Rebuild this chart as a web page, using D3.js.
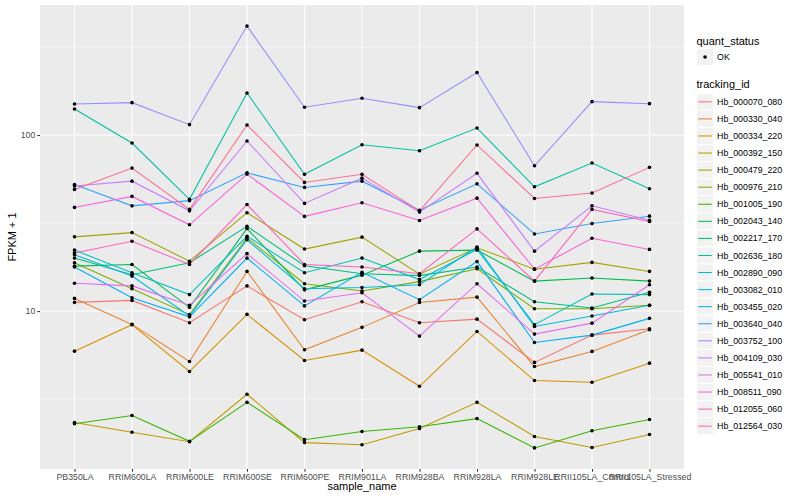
<!DOCTYPE html>
<html><head><meta charset="utf-8">
<script src="https://cdn.jsdelivr.net/npm/d3@7"></script>
<style>body{margin:0;background:#fff}svg{display:block;font-family:"Liberation Sans",Arial,Helvetica,sans-serif}</style>
</head><body><svg id="c" width="800" height="500"></svg>
<script>
const categories = ["PB350LA","RRIM600LA","RRIM600LE","RRIM600SE","RRIM600PE","RRIM901LA","RRIM928BA","RRIM928LA","RRIM928LE","RRII105LA_Control","RRII105LA_Stressed"];
const trackingIds = ["Hb_000070_080","Hb_000330_040","Hb_000334_220","Hb_000392_150","Hb_000479_220","Hb_000976_210","Hb_001005_190","Hb_002043_140","Hb_002217_170","Hb_002636_180","Hb_002890_090","Hb_003082_010","Hb_003455_020","Hb_003640_040","Hb_003752_100","Hb_004109_030","Hb_005541_010","Hb_008511_090","Hb_012055_060","Hb_012564_030"];
const seriesColors = ["#F8766D","#EA8331","#D89000","#C09B00","#A3A500","#7CAE00","#39B600","#00BB4E","#00BF7D","#00C1A3","#00BFC4","#00BAE0","#00B0F6","#35A2FF","#9590FF","#C77CFF","#E76BF3","#FA62DB","#FF62BC","#FF6C91"];
const quantStatus = ["OK"];
const yTickValues = [10, 100];
const yTickLabels = ["10", "100"];

const Hb_000070_080 = [11.2, 11.5, 8.59, 13.9, 8.93, 11.3, 8.59, 9.00, 5.11, 7.30, 7.94];
const Hb_000330_040 = [11.8, 8.40, 5.17, 16.8, 6.03, 8.08, 11.2, 12.0, 4.84, 5.90, 7.84];
const Hb_000334_220 = [5.92, 8.37, 4.54, 9.58, 5.24, 6.00, 3.74, 7.66, 4.03, 3.94, 5.06];
const Hb_000392_150 = [2.33, 2.05, 1.81, 3.37, 1.79, 1.74, 2.15, 3.03, 1.94, 1.68, 1.99];
const Hb_000479_220 = [26.4, 27.9, 19.2, 36.2, 22.5, 26.3, 16.2, 22.9, 17.3, 18.9, 16.8];
const Hb_000976_210 = [18.8, 13.4, 9.54, 26.0, 14.3, 13.0, 14.7, 17.4, 10.3, 10.3, 10.8];
const Hb_001005_190 = [2.29, 2.55, 1.82, 3.03, 1.86, 2.07, 2.20, 2.45, 1.67, 2.09, 2.42];
const Hb_002043_140 = [18.0, 18.4, 10.5, 29.4, 13.2, 16.0, 21.9, 22.2, 14.8, 15.4, 14.8];
const Hb_002217_170 = [20.0, 16.1, 18.8, 30.3, 18.1, 16.3, 15.9, 17.8, 11.3, 10.4, 12.8];
const Hb_002636_180 = [140.6, 90.1, 43.1, 173.4, 59.8, 88.1, 81.4, 109.6, 50.8, 69.3, 49.5];
const Hb_002890_090 = [22.2, 16.5, 12.4, 26.6, 16.5, 20.0, 15.1, 22.4, 8.37, 12.5, 12.4];
const Hb_003082_010 = [20.9, 15.8, 9.37, 25.4, 13.4, 13.6, 14.1, 23.1, 8.18, 9.37, 10.8];
const Hb_003455_020 = [17.8, 11.9, 9.27, 20.0, 10.7, 16.6, 11.6, 19.1, 6.63, 7.30, 9.09];
const Hb_003640_040 = [52.4, 39.6, 42.4, 61.0, 50.4, 54.7, 37.4, 52.8, 27.4, 31.4, 34.6];
const Hb_003752_100 = [150.1, 152.7, 114.5, 415.7, 143.8, 161.8, 143.1, 226.3, 66.9, 154.7, 150.7];
const Hb_004109_030 = [51.4, 54.7, 37.1, 92.5, 40.9, 56.9, 36.5, 60.6, 21.9, 39.6, 32.8];
const Hb_005541_010 = [14.4, 13.9, 10.8, 21.2, 11.4, 12.7, 7.21, 14.3, 7.40, 8.54, 14.1];
const Hb_008511_090 = [38.8, 44.8, 30.9, 60.0, 34.5, 41.2, 32.7, 43.8, 17.3, 25.9, 22.4];
const Hb_012055_060 = [21.4, 24.9, 18.4, 40.3, 18.4, 17.8, 16.3, 29.3, 14.8, 37.8, 32.3];
const Hb_012564_030 = [49.1, 64.9, 37.8, 114.0, 53.8, 59.8, 37.1, 87.8, 43.6, 46.8, 65.5];

const seriesValues = [Hb_000070_080, Hb_000330_040, Hb_000334_220, Hb_000392_150, Hb_000479_220, Hb_000976_210, Hb_001005_190, Hb_002043_140, Hb_002217_170, Hb_002636_180, Hb_002890_090, Hb_003082_010, Hb_003455_020, Hb_003640_040, Hb_003752_100, Hb_004109_030, Hb_005541_010, Hb_008511_090, Hb_012055_060, Hb_012564_030];

const series = trackingIds.map((id, i) => ({
  id, color: seriesColors[i],
  pts: categories.map((c, j) => ({ cat: c, v: seriesValues[i][j] }))
}));

const svg = d3.select("#c");
const P = { l: 40, r: 684, t: 5, b: 469 };

// log scale with ggplot-like 5% expansion
const all = seriesValues.flat();
const lmin = Math.log10(d3.min(all)), lmax = Math.log10(d3.max(all));
const ex = (lmax - lmin) * 0.05;
const y = d3.scaleLog().domain([Math.pow(10, lmin - ex), Math.pow(10, lmax + ex)]).range([P.b, P.t]);
const x = d3.scalePoint().domain(categories).range([P.l, P.r]).padding(0.6);

// panel
svg.append("rect").attr("x", P.l).attr("y", P.t).attr("width", P.r - P.l).attr("height", P.b - P.t).attr("fill", "#EBEBEB");

const [d0, d1] = y.domain().map(Math.log10);
const minor = [];
for (let k = Math.floor(d0) - 1; k <= Math.ceil(d1); k++) {
  const m = Math.pow(10, k + 0.5);
  if (m > y.domain()[0] && m < y.domain()[1]) minor.push(m);
}
const g = svg.append("g");
g.selectAll(".mn").data(minor).join("line")
  .attr("x1", P.l).attr("x2", P.r).attr("y1", d => y(d)).attr("y2", d => y(d))
  .attr("stroke", "#fff").attr("stroke-width", 0.55);
g.selectAll(".mj").data(yTickValues).join("line")
  .attr("x1", P.l).attr("x2", P.r).attr("y1", d => y(d)).attr("y2", d => y(d))
  .attr("stroke", "#fff").attr("stroke-width", 1.1);
g.selectAll(".vx").data(categories).join("line")
  .attr("x1", d => x(d)).attr("x2", d => x(d)).attr("y1", P.t).attr("y2", P.b)
  .attr("stroke", "#fff").attr("stroke-width", 1.1);

// lines
const line = d3.line().x(d => x(d.cat)).y(d => y(d.v));
svg.append("g").selectAll("path").data(series).join("path")
  .attr("d", d => line(d.pts)).attr("fill", "none")
  .attr("stroke", d => d.color).attr("stroke-width", 1.07);

// points
svg.append("g").selectAll("circle").data(series.flatMap(s => s.pts)).join("circle")
  .attr("cx", d => x(d.cat)).attr("cy", d => y(d.v)).attr("r", 1.8).attr("fill", "#000");

// axes
const xAxis = d3.axisBottom(x).tickSize(2.7).tickPadding(2.5);
const xa = svg.append("g").attr("transform", `translate(0,${P.b})`).call(xAxis);
const yAxis = d3.axisLeft(y).tickValues(yTickValues).tickFormat((d, i) => yTickLabels[i]).tickSize(2.7).tickPadding(2);
const ya = svg.append("g").attr("transform", `translate(${P.l},0)`).call(yAxis);
[xa, ya].forEach(a => {
  a.select(".domain").remove();
  a.selectAll(".tick line").attr("stroke", "#333").attr("stroke-width", 1.07);
  a.selectAll(".tick text").attr("fill", "#4D4D4D").style("font-size", "8.8px").style("font-family", '"Liberation Sans",Arial,sans-serif');
});

// axis titles
svg.append("text").attr("x", (P.l + P.r) / 2).attr("y", 490).attr("text-anchor", "middle")
  .style("font-size", "11px").attr("fill", "#000").text("sample_name");
svg.append("text").attr("transform", `translate(16,${(P.t + P.b) / 2}) rotate(-90)`).attr("text-anchor", "middle")
  .style("font-size", "11px").attr("fill", "#000").text("FPKM + 1");

// legend
const LX = 696.5, KS = 17.07;
svg.append("text").attr("x", LX).attr("y", 44.5).style("font-size", "11px").attr("fill", "#000").text("quant_status");
const qk = svg.append("g").selectAll("g").data(quantStatus).join("g").attr("transform", (d, i) => `translate(${LX},${48.5 + i * KS})`);
qk.append("rect").attr("width", KS).attr("height", KS).attr("fill", "#F2F2F2").attr("stroke", "#fff").attr("stroke-width", 1);
qk.append("circle").attr("cx", KS / 2).attr("cy", KS / 2).attr("r", 1.8).attr("fill", "#000");
qk.append("text").attr("x", KS + 3.5).attr("y", KS / 2).attr("dy", "0.35em").style("font-size", "8.8px").attr("fill", "#000").text(d => d);

svg.append("text").attr("x", LX).attr("y", 88).style("font-size", "11px").attr("fill", "#000").text("tracking_id");
const tk = svg.append("g").selectAll("g").data(series).join("g").attr("transform", (d, i) => `translate(${LX},${93.3 + i * KS})`);
tk.append("rect").attr("width", KS).attr("height", KS).attr("fill", "#F2F2F2").attr("stroke", "#fff").attr("stroke-width", 1);
tk.append("line").attr("x1", 1.7).attr("x2", KS - 1.7).attr("y1", KS / 2).attr("y2", KS / 2).attr("stroke", d => d.color).attr("stroke-width", 1.07);
tk.append("text").attr("x", KS + 3.5).attr("y", KS / 2).attr("dy", "0.35em").style("font-size", "8.8px").attr("fill", "#000").text(d => d.id);
</script></body></html>
